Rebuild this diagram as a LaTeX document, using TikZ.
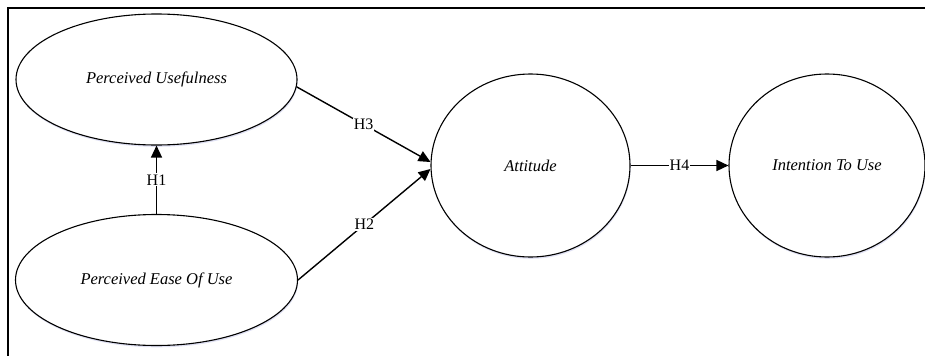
\documentclass[tikz,border=0pt]{standalone}
\usepackage{fontspec}
\setmainfont{Liberation Serif}
\usetikzlibrary{arrows.meta,shapes.geometric,shadows}

\begin{document}
\begin{tikzpicture}[x=1pt,y=-1pt,->,>={Triangle[length=12pt,width=11pt]},line width=1.4pt,
  construct/.style={ellipse,draw,line width=1.1pt,inner sep=0pt,fill=white,font=\fontsize{16.5}{19}\selectfont\itshape,
    drop shadow={shadow xshift=0.6pt,shadow yshift=-1.8pt,fill=cyan!25!blue!25,opacity=0.5}},
  hyp/.style={fill=white,inner sep=1pt,font=\fontsize{16}{19}\selectfont}]
\useasboundingbox (0,0) rectangle (925,356);
\draw[-,line width=1.3pt] (925,8) -- (8,8) -- (8,356);

\node[construct,minimum width=281pt,minimum height=131pt] (pu) at (156.5,79.5) {Perceived Usefulness};
\node[construct,minimum width=282pt,minimum height=131pt] (peou) [below of=pu,node distance=200.5pt] {Perceived Ease Of Use};
\node[construct,minimum width=199pt,minimum height=183pt] (att) at (530.5,165.5) {Attitude};
\node[construct,minimum width=196pt,minimum height=183pt] (itu) [right of=att,node distance=296.5pt] {Intention To Use};

\path (peou) edge node[hyp] {H1} (pu)
      (pu.-3) edge node[hyp] {H3} (att.178)
      (peou.east) edge node[hyp] {H2} (att.182)
      (att) edge node[hyp] {H4} (itu);

\end{tikzpicture}
\end{document}
